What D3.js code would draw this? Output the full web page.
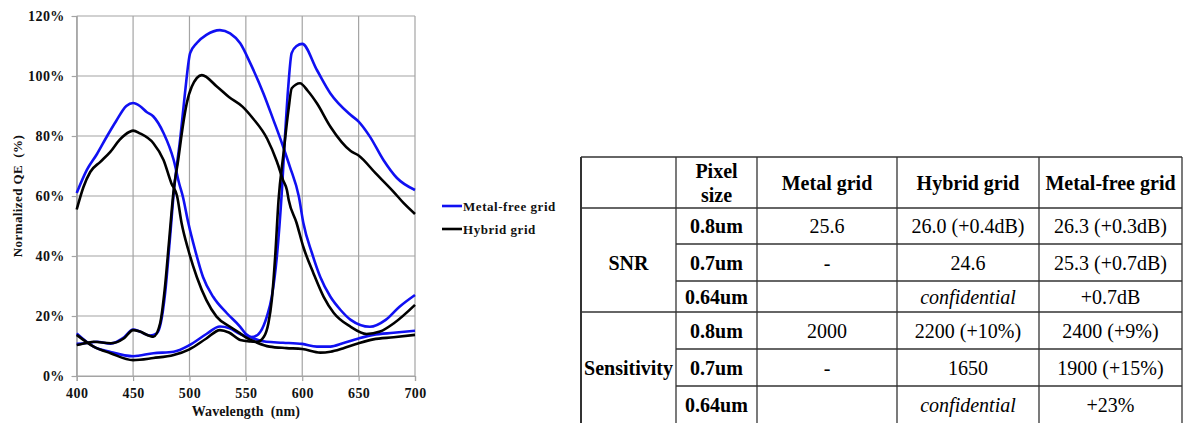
<!DOCTYPE html>
<html>
<head>
<meta charset="utf-8">
<script src="https://cdn.jsdelivr.net/npm/d3@7"></script>
<style>
  body { margin: 0; background: #fff; }
</style>
</head>
<body>
<div id="chart"></div>
<script>
// ---- data: [wavelength nm, normalized QE %] ----
var wavelengthTicks = [400, 450, 500, 550, 600, 650, 700];
var qeTicks = [0, 20, 40, 60, 80, 100, 120];

// Metal-free grid (blue lines)
var metalFreeB = [[400,61],[409,68.7],[418,74],[427,80],[435,85],[444,90],[450,91],[456,90],[462,88],[468,86.5],
  [477,81],[486,72],[491,64],[494,60],[499,51],[505,42],[512,33],[521,26.4],[533,21],[545,16.4],[550,14],
  [557,12.5],[568,11.4],[583,11.1],[600,10.7],[613,9.8],[625,9.8],[636,10.9],[650,12.5],[663,13.7],[681,14.4],[700,15.1]];
var metalFreeG = [[400,10.7],[409,11],[418,11.4],[430,10.8],[441,12.6],[450,15.5],[456,14.8],[465,13.5],[471,14.2],
  [474.5,17.6],[478.5,28],[482.5,45],[486.3,62],[492,79.8],[496,94.2],[500.6,107.6],[506.5,111],[515,113.7],
  [527,115.3],[536,114.2],[545,110.9],[554,104.2],[565.6,94.2],[574.5,85.3],[582,77.6],[589,69.8],[597,59.8],
  [601,51],[608.6,41],[616,33],[625,26.4],[634,22],[643,18.7],[660,16.4],[674,18.7],[686,23],[700,27]];
var metalFreeR = [[400,14.2],[415,9.8],[430,8],[450,6.6],[468,7.6],[486,8.1],[500,10.3],[515,14],[527,16.5],
  [535,16],[545,14],[552,13],[557,13.1],[563,14.8],[568.6,19.8],[573,26.4],[577.5,39.8],[582,62],[584.7,79.8],
  [587.6,96.4],[590.6,107.6],[595,110],[600,110.7],[613,102],[625,94.2],[643,87],[650,84.8],[660,79.8],
  [672,72],[684,66],[700,62]];

// Hybrid grid (black lines)
var hybridB = [[400,55.5],[406,63],[412,68],[421,71.4],[430,74.8],[438,78.7],[447,81.4],[450,81.8],[456,80.9],
  [468,77.6],[477,72],[484,64.2],[489,60],[493,51],[499,42],[506.5,33],[515,25.3],[524,19.8],[536,16.4],
  [545,14.2],[550,12.9],[560,11.1],[571,9.8],[586,9.3],[600,9],[616,7.8],[625,8.1],[636,9.2],[650,10.9],
  [663,12.2],[681,12.9],[700,13.7]];
var hybridG = [[400,10.3],[409,11],[415,11.4],[430,10.9],[442,12.6],[450,15.3],[456,14.8],[465,13.3],[468,13.1],
  [474,17.6],[478,28.7],[482,45.3],[486,62],[490,72],[494,83],[497.6,90.9],[502,96.4],[511,100.3],[524,96.6],
  [535,93],[547,89.8],[556,86],[569,79],[577.5,71.5],[583,65.3],[586.4,62],[588,58.7],[595,51],[601,43],[610,34.2],
  [619,26.4],[628,21],[643,16.4],[657,14],[669,14.8],[681,17.5],[700,23.7]];
var hybridR = [[400,13.7],[415,9.8],[430,7.6],[450,5.3],[468,6],[486,7],[500,8.9],[515,12.5],[527,15.3],
  [535,14.5],[545,12],[554,11.5],[560,11.4],[566,13.1],[570,17.6],[573,25.3],[576,39.8],[579,58.7],
  [583.4,74.2],[587.8,88.7],[590.7,95.9],[598,97.6],[605,95],[613,90.9],[625,83.1],[643,75],[650,73.5],
  [665,67.6],[681,61.4],[690,57.6],[700,54]];

var legendNames = ["Metal-free grid", "Hybrid grid"];

// ---- table ----
var tableHeader = ["", "Pixel|size", "Metal grid", "Hybrid grid", "Metal-free grid"];
var metrics = ["SNR", "Sensitivity"];
var pixelSizes = ["0.8um", "0.7um", "0.64um"];
var snrValues = [["25.6", "26.0 (+0.4dB)", "26.3 (+0.3dB)"],
                 ["-", "24.6", "25.3 (+0.7dB)"],
                 ["", "confidential", "+0.7dB"]];
var sensitivityValues = [["2000", "2200 (+10%)", "2400 (+9%)"],
                         ["-", "1650", "1900 (+15%)"],
                         ["", "confidential", "+23%"]];

// ---- chart ----
var FONT = "'Liberation Serif', 'Times New Roman', serif";
var W = 1185, H = 423;
var margin = {top: 16, left: 76.7},
    width = 338.3,
    height = 360;

var root = d3.select("#chart").append("svg")
    .attr("width", W)
    .attr("height", H)
    .style("font-family", FONT);

var svg = root.append("g")
    .attr("transform", "translate(" + margin.left + "," + margin.top + ")");

var x = d3.scaleLinear().domain([400, 700]).range([0, width]);
var y = d3.scaleLinear().domain([0, 120]).range([height, 0]);

var gridColor = "#a4a4a4";

// grid lines
svg.append("g").selectAll("line.h")
  .data(qeTicks)
  .enter().append("line")
    .attr("x1", 0).attr("x2", width)
    .attr("y1", function(d) { return y(d); })
    .attr("y2", function(d) { return y(d); })
    .attr("stroke", gridColor).attr("stroke-width", 1.2);

svg.append("g").selectAll("line.v")
  .data(wavelengthTicks)
  .enter().append("line")
    .attr("y1", 0).attr("y2", height)
    .attr("x1", function(d) { return x(d); })
    .attr("x2", function(d) { return x(d); })
    .attr("stroke", gridColor).attr("stroke-width", 1.2);

// axes
var xAxis = svg.append("g")
    .attr("transform", "translate(0," + height + ")")
    .call(d3.axisBottom(x).tickValues(wavelengthTicks).tickSize(5).tickPadding(7).tickFormat(d3.format("d")));
var yAxis = svg.append("g")
    .call(d3.axisLeft(y).tickValues(qeTicks).tickSize(5).tickPadding(7).tickFormat(function(d) { return d + "%"; }));

[xAxis, yAxis].forEach(function(a) {
  a.attr("font-family", null);
  a.select(".domain").attr("stroke", gridColor).attr("stroke-width", 1.2);
  a.selectAll(".tick line").attr("stroke", gridColor).attr("stroke-width", 1.2);
  a.selectAll(".tick text")
    .attr("fill", "#111")
    .style("font-family", FONT)
    .style("font-weight", "bold")
    .style("font-size", "14px")
    .style("letter-spacing", "0.4px");
});

// axis titles
svg.append("text")
    .attr("x", width / 2)
    .attr("y", height + 40)
    .attr("text-anchor", "middle")
    .style("white-space", "pre")
    .style("font-family", FONT)
    .style("font-weight", "bold")
    .style("font-size", "14px")
    .style("letter-spacing", "0.1px")
    .attr("fill", "#111")
    .text("Wavelength  (nm)");

svg.append("text")
    .attr("transform", "translate(" + (22 - margin.left) + "," + (196 - margin.top) + ") rotate(-90)")
    .attr("text-anchor", "middle")
    .style("white-space", "pre")
    .style("font-family", FONT)
    .style("font-weight", "bold")
    .style("font-size", "13px")
    .style("letter-spacing", "0.4px")
    .attr("fill", "#111")
    .text("Normalized QE  (%)");

// curves
var line = d3.line()
    .x(function(d) { return x(d[0]); })
    .y(function(d) { return y(d[1]); })
    .curve(d3.curveMonotoneX);

var blue = "#1010f2", black = "#000";
var curves = [
  {data: metalFreeB, color: blue}, {data: metalFreeG, color: blue}, {data: metalFreeR, color: blue},
  {data: hybridB, color: black}, {data: hybridG, color: black}, {data: hybridR, color: black}
];

svg.append("g").selectAll("path")
  .data(curves)
  .enter().append("path")
    .attr("d", function(d) { return line(d.data); })
    .attr("fill", "none")
    .attr("stroke", function(d) { return d.color; })
    .attr("stroke-width", 2.6)
    .attr("stroke-linejoin", "round");

// legend
var legend = root.append("g").attr("transform", "translate(442,206)");
legendNames.forEach(function(name, i) {
  var g = legend.append("g").attr("transform", "translate(0," + (i * 23) + ")");
  g.append("line").attr("x1", 0).attr("x2", 20).attr("y1", 0).attr("y2", 0)
    .attr("stroke", i === 0 ? blue : black).attr("stroke-width", 2.6);
  g.append("text").attr("x", 21).attr("y", 4.5)
    .style("font-family", FONT)
    .style("font-weight", "bold").style("font-size", "13px").style("letter-spacing", "0.55px")
    .attr("fill", "#111")
    .text(name);
});

// ---- table ----
var colX = [581, 676, 757, 897, 1039, 1182];
var rowY = [157, 208, 244, 281, 312, 349, 386, 424];
var tbl = root.append("g");
var lineColor = "#333";
var fontSize = 20;

function cellText(cx, cy, txt, weight, style) {
  tbl.append("text")
    .attr("x", cx).attr("y", cy)
    .attr("dy", "0.35em")
    .attr("text-anchor", "middle")
    .style("font-family", FONT)
    .style("font-size", fontSize + "px")
    .style("font-weight", weight || "normal")
    .style("font-style", style || "normal")
    .attr("fill", "#000")
    .text(txt);
}

// outer frame and column lines
colX.forEach(function(cx, i) {
  tbl.append("line").attr("x1", cx).attr("x2", cx).attr("y1", rowY[0]).attr("y2", H + 2)
    .attr("stroke", lineColor).attr("stroke-width", i === 0 ? 2 : 1.3);
});
// full-width horizontal lines (top, header bottom, between metrics)
[rowY[0], rowY[1], rowY[4]].forEach(function(ry) {
  tbl.append("line").attr("x1", colX[0]).attr("x2", colX[5]).attr("y1", ry).attr("y2", ry)
    .attr("stroke", lineColor).attr("stroke-width", 1.3);
});
// row lines inside a metric block
[rowY[2], rowY[3], rowY[5], rowY[6]].forEach(function(ry) {
  tbl.append("line").attr("x1", colX[1]).attr("x2", colX[5]).attr("y1", ry).attr("y2", ry)
    .attr("stroke", lineColor).attr("stroke-width", 1.3);
});

// header
tableHeader.forEach(function(h, i) {
  if (!h) return;
  var cx = (colX[i] + colX[i + 1]) / 2, cy = (rowY[0] + rowY[1]) / 2;
  var parts = h.split("|");
  if (parts.length === 2) {
    cellText(cx, cy - 11.5, parts[0], "bold");
    cellText(cx, cy + 12, parts[1], "bold");
  } else {
    cellText(cx, cy, h, "bold");
  }
});

// body
[snrValues, sensitivityValues].forEach(function(block, b) {
  var r0 = 1 + b * 3;
  var blockMid = b === 0 ? (rowY[r0] + rowY[r0 + 3]) / 2 + 3 : (rowY[r0 + 1] + rowY[r0 + 2]) / 2;
  cellText((colX[0] + colX[1]) / 2, blockMid, metrics[b], "bold");
  block.forEach(function(row, r) {
    var cy = (rowY[r0 + r] + rowY[r0 + r + 1]) / 2;
    cellText((colX[1] + colX[2]) / 2, cy, pixelSizes[r], "bold");
    row.forEach(function(v, c) {
      cellText((colX[c + 2] + colX[c + 3]) / 2, cy, v, "normal", v === "confidential" ? "italic" : "normal");
    });
  });
});
</script>
</body>
</html>
